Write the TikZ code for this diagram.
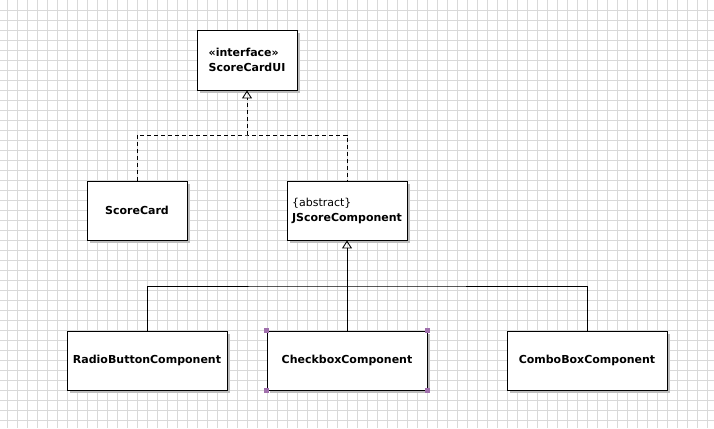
\documentclass[tikz,border=0pt]{standalone}
\usepackage{fontspec}
\setmainfont{DejaVu Sans}
\usetikzlibrary{arrows.meta,shadows}
\usepackage{xcolor}
\definecolor{gridgray}{HTML}{D9D9D9}
\definecolor{shadowgray}{HTML}{BDBDBD}
\definecolor{handlepurple}{HTML}{A070AC}

\tikzset{
  umlbox/.style={draw=black, line width=0.9pt, fill=white, inner sep=2pt,
    font=\fontsize{11}{15}\selectfont\bfseries, align=left,
    drop shadow={shadow xshift=3pt, shadow yshift=-3pt, fill=shadowgray, opacity=1}},
  realize/.style={line width=0.9pt, dash pattern=on 4pt off 3pt},
  inherit/.style={line width=0.9pt},
  hollowtip/.style={-{Triangle[open, width=10pt, length=8pt, line width=0.9pt]}},
}

\begin{document}
\begin{tikzpicture}[x=1pt, y=-1pt]
  \useasboundingbox (0,0) rectangle (714,428);
  % Background grid
  \fill[white] (0,0) rectangle (714,428);
  \foreach \gx in {7,17,...,707}
    \draw[gridgray, line width=0.6pt] (\gx,0) -- (\gx,428);
  \foreach \gy in {10,20,...,420}
    \draw[gridgray, line width=0.6pt] (0,\gy) -- (714,\gy);
  % Interface
  \node[umlbox, minimum width=100pt, minimum height=60pt] (ui) at (247,60)
        {\guillemotleft interface\guillemotright\\ScoreCardUI};
  % Implementing classes
  \node[umlbox, minimum width=100pt, minimum height=59pt] (sc) at (137,210.5) {ScoreCard};
  \node[umlbox, minimum width=120pt, minimum height=59pt] (jsc) at (347,210.5)
        {\mdseries\{abstract\}\\JScoreComponent};
  % Concrete components
  \node[umlbox, minimum width=160pt, minimum height=59pt] (rb) at (147,360.5) {RadioButtonComponent};
  \node[umlbox, minimum width=160pt, minimum height=59pt] (cb) at (347,360.5) {CheckboxComponent};
  \node[umlbox, minimum width=160pt, minimum height=59pt] (cmb) at (587,360.5) {ComboBoxComponent};
  % Realization (dashed)
  \coordinate (uijoin) at (247,135);
  \draw[realize] (sc.north) |- (uijoin) -| (jsc.north);
  \draw[realize, hollowtip] (uijoin) -- (ui.south);
  % Generalization (solid)
  \coordinate (subjoin) at (347,286);
  \draw[inherit] (rb.north) |- (subjoin) -| (cmb.north);
  \draw[inherit, hollowtip] (cb.north) -- (jsc.south);
  % Selection handles on CheckboxComponent
  \foreach \corner in {north west, north east, south west, south east}
    \fill[handlepurple] (cb.\corner) ++(-2.5,-2.5) rectangle ++(5,5);
\end{tikzpicture}
\end{document}
